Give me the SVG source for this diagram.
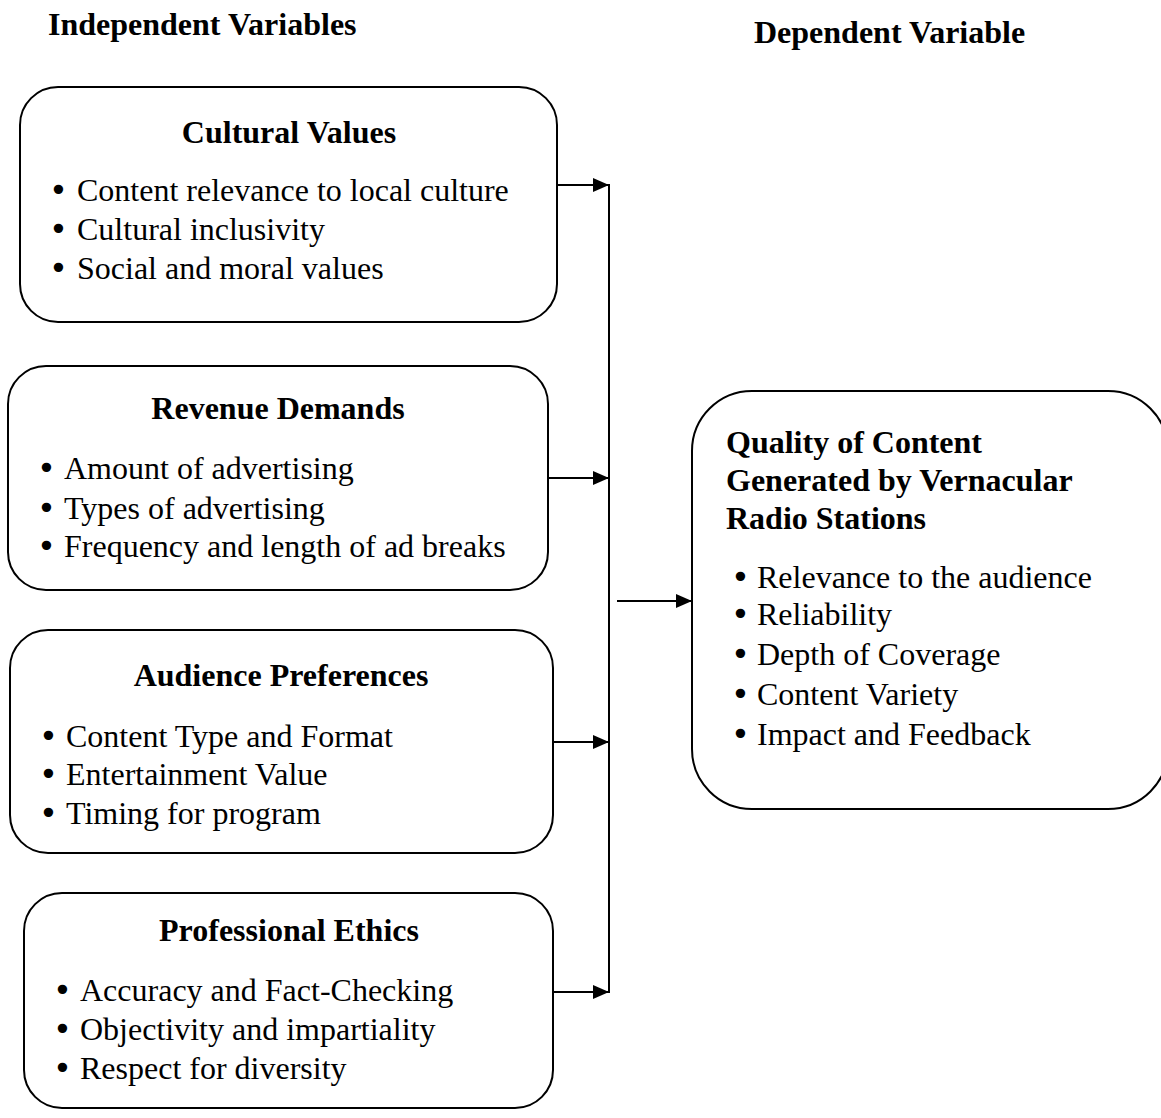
<svg xmlns="http://www.w3.org/2000/svg" width="1161" height="1118" viewBox="0 0 1161 1118">
<style>
.box{fill:#fff;stroke:#000;stroke-width:2}
.t{font-family:"Liberation Serif","Times New Roman",serif;font-size:32px;fill:#000}
.b{font-weight:bold}
.bu{font-family:"DejaVu Sans",sans-serif;font-size:32px}
.ln{stroke:#000;stroke-width:2;fill:none}
</style>
<defs>
<marker id="ah" markerWidth="16" markerHeight="14" refX="16" refY="7" orient="auto" markerUnits="userSpaceOnUse" viewBox="0 0 16 14">
<path d="M0,0 L16,7 L0,14 z" fill="#000"/>
</marker>
</defs>
<rect width="1161" height="1118" fill="#fff"/>
<text class="t b" x="48" y="35">Independent Variables</text>
<text class="t b" x="754" y="43">Dependent Variable</text>
<g id="cultural">
<rect class="box" x="20" y="87" width="537" height="235" rx="38"/>
<text class="t b" x="289" y="143" text-anchor="middle">Cultural Values</text>
<text class="t" x="49" y="201"><tspan class="bu">•</tspan><tspan x="77">Content relevance to local culture</tspan></text>
<text class="t" x="49" y="240"><tspan class="bu">•</tspan><tspan x="77">Cultural inclusivity</tspan></text>
<text class="t" x="49" y="279"><tspan class="bu">•</tspan><tspan x="77">Social and moral values</tspan></text>
</g>
<g id="revenue">
<rect class="box" x="8" y="366" width="540" height="224" rx="38"/>
<text class="t b" x="278" y="419" text-anchor="middle">Revenue Demands</text>
<text class="t" x="37" y="479"><tspan class="bu">•</tspan><tspan x="64">Amount of advertising</tspan></text>
<text class="t" x="37" y="519"><tspan class="bu">•</tspan><tspan x="64">Types of advertising</tspan></text>
<text class="t" x="37" y="557"><tspan class="bu">•</tspan><tspan x="64">Frequency and length of ad breaks</tspan></text>
</g>
<g id="audience">
<rect class="box" x="10" y="630" width="543" height="223" rx="38"/>
<text class="t b" x="281" y="686" text-anchor="middle">Audience Preferences</text>
<text class="t" x="39" y="747"><tspan class="bu">•</tspan><tspan x="66">Content Type and Format</tspan></text>
<text class="t" x="39" y="785"><tspan class="bu">•</tspan><tspan x="66">Entertainment Value</tspan></text>
<text class="t" x="39" y="824"><tspan class="bu">•</tspan><tspan x="66">Timing for program</tspan></text>
</g>
<g id="ethics">
<rect class="box" x="24" y="893" width="529" height="215" rx="38"/>
<text class="t b" x="289" y="941" text-anchor="middle">Professional Ethics</text>
<text class="t" x="53" y="1001"><tspan class="bu">•</tspan><tspan x="80">Accuracy and Fact-Checking</tspan></text>
<text class="t" x="53" y="1040"><tspan class="bu">•</tspan><tspan x="80">Objectivity and impartiality</tspan></text>
<text class="t" x="53" y="1079"><tspan class="bu">•</tspan><tspan x="80">Respect for diversity</tspan></text>
</g>
<g id="quality">
<rect class="box" x="692" y="391" width="476" height="418" rx="60"/>
<text class="t b" x="726" y="453">Quality of Content</text>
<text class="t b" x="726" y="491">Generated by Vernacular</text>
<text class="t b" x="726" y="529">Radio Stations</text>
<text class="t" x="731" y="588"><tspan class="bu">•</tspan><tspan x="757">Relevance to the audience</tspan></text>
<text class="t" x="731" y="625"><tspan class="bu">•</tspan><tspan x="757">Reliability</tspan></text>
<text class="t" x="731" y="665"><tspan class="bu">•</tspan><tspan x="757">Depth of Coverage</tspan></text>
<text class="t" x="731" y="705"><tspan class="bu">•</tspan><tspan x="757">Content Variety</tspan></text>
<text class="t" x="731" y="745"><tspan class="bu">•</tspan><tspan x="757">Impact and Feedback</tspan></text>
</g>
<g id="connectors">
<line class="ln" x1="609" y1="184" x2="609" y2="993"/>
<line class="ln" x1="557" y1="185" x2="609" y2="185" marker-end="url(#ah)"/>
<line class="ln" x1="548" y1="478" x2="609" y2="478" marker-end="url(#ah)"/>
<line class="ln" x1="553" y1="742" x2="609" y2="742" marker-end="url(#ah)"/>
<line class="ln" x1="553" y1="992" x2="609" y2="992" marker-end="url(#ah)"/>
<line class="ln" x1="617" y1="601" x2="692" y2="601" marker-end="url(#ah)"/>
</g>
</svg>
